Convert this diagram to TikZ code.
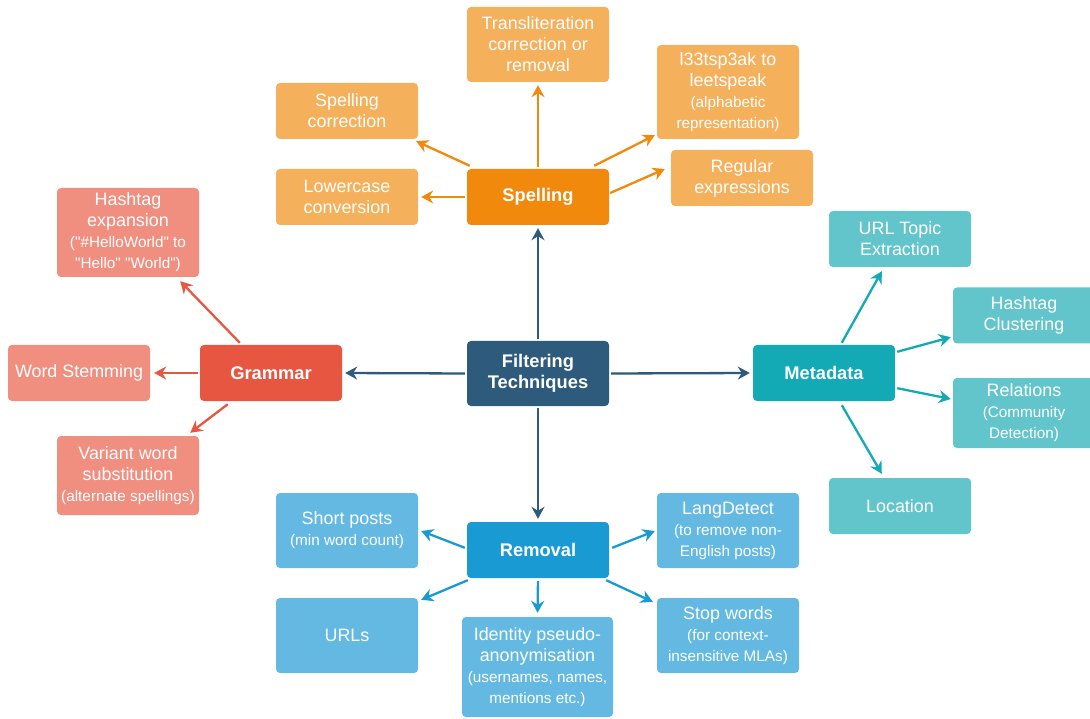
\documentclass[tikz,border=0pt]{standalone}
\usepackage{fontspec}
\setmainfont{Liberation Sans}
\newfontfamily\plainf{Liberation Sans}
\usetikzlibrary{arrows.meta,calc}
\definecolor{spD}{HTML}{F0890C}
\definecolor{spL}{HTML}{F5B05B}
\definecolor{grD}{HTML}{E75640}
\definecolor{grL}{HTML}{F08E80}
\definecolor{ftc}{HTML}{2E5A7B}
\definecolor{mdD}{HTML}{13A9B5}
\definecolor{mdL}{HTML}{63C5CC}
\definecolor{rmD}{HTML}{1A9AD3}
\definecolor{rmL}{HTML}{63B9E1}
\newcommand{\sml}{\fontsize{15.3}{21}\selectfont}
\begin{document}
\begin{tikzpicture}[x=1pt,y=-1pt,
 box/.style={rectangle, rounded corners=4pt, minimum width=142pt, minimum height=56pt, inner sep=0pt, align=center, text=white, font=\plainf\fontsize{17.9}{21}\selectfont},
 hub/.style={box, font=\plainf\fontsize{18.3}{21}\selectfont\bfseries},
 arr/.style={line width=2.3pt, -{Stealth[length=12pt,width=13pt,inset=4pt]}},
]
\useasboundingbox[fill=white] (0,0) rectangle (1090,719);
% Spelling group
\node[hub, fill=spD] (spell) at (538,197) {Spelling};
\node[box, fill=spL, minimum height=75pt] (tr) at (538,44.5) {Transliteration\\correction or\\removal};
\node[box, fill=spL] (spc) at (347,111) {Spelling\\correction};
\node[box, fill=spL, minimum height=94pt] (leet) at (728,92) {l33tsp3ak to\\leetspeak\\{\sml (alphabetic}\\{\sml representation)}};
\node[box, fill=spL] (low) at (347,197) {Lowercase\\conversion};
\node[box, fill=spL] (regex) at (742,178) {Regular\\expressions};
% Grammar group
\node[hub, fill=grD] (gram) at (271,373) {Grammar};
\node[box, fill=grL, minimum height=89pt] (hexp) at (128,232.5) {Hashtag\\expansion\\{\sml ("\#HelloWorld" to}\\{\sml "Hello" "World")}};
\node[box, fill=grL] (stem) at (79,373) {Word Stemming};
\node[box, fill=grL, minimum height=79pt] (var) at (128,475.5) {Variant word\\substitution\\{\sml (alternate spellings)}};
% Centre
\node[hub, fill=ftc, minimum height=65pt] (filt) at (538,373.5) {Filtering\\Techniques};
% Metadata group
\node[hub, fill=mdD] (meta) at (824,373) {Metadata};
\node[box, fill=mdL] (url) at (900,239) {URL Topic\\Extraction};
\node[box, fill=mdL] (hcl) at (1024,315.5) {Hashtag\\Clustering};
\node[box, fill=mdL, minimum height=70pt] (rel) at (1024,413) {Relations\\{\sml (Community}\\{\sml Detection)}};
\node[box, fill=mdL] (loc) at (900,506) {Location};
% Removal group
\node[hub, fill=rmD] (rem) at (538,550) {Removal};
\node[box, fill=rmL, minimum height=75pt] (short) at (347,530.5) {Short posts\\{\sml (min word count)}};
\node[box, fill=rmL, minimum height=75pt] (lang) at (728,530.5) {LangDetect\\{\sml (to remove non-}\\{\sml English posts)}};
\node[box, fill=rmL, minimum height=75pt] (urls) at (347,635.5) {URLs};
\node[box, fill=rmL, minimum width=151pt, minimum height=100pt] (ident) at (537.5,667) {Identity pseudo-\\anonymisation\\{\sml (usernames, names,}\\{\sml mentions etc.)}};
\node[box, fill=rmL, minimum height=75pt] (stop) at (728,635.5) {Stop words\\{\sml (for context-}\\{\sml insensitive MLAs)}};
% Arrows: centre
\draw[arr, ftc, shorten <=2pt, shorten >=3pt] (filt.north) -- (spell.south);
\draw[arr, ftc, shorten <=2pt, shorten >=3pt] (filt.west) -- (gram.east);
\draw[arr, ftc, shorten <=2pt, shorten >=3pt] (filt.east) -- (meta.west);
\draw[arr, ftc, shorten <=2pt, shorten >=3pt] (filt.south) -- (rem.north);
% Arrows: spelling
\draw[arr, spD, shorten <=2pt, shorten >=3pt] (spell.north) -- (tr.south);
\draw[arr, spD] ([shift={(3,-3)}]spell.north west) -- ([shift={(-2,2)}]spc.south east);
\draw[arr, spD] ([shift={(-2,0)}]spell.west) -- ([shift={(3,0)}]low.east);
\draw[arr, spD] ([shift={(-15,-3)}]spell.north east) -- ([shift={(-2,-4)}]leet.south west);
\draw[arr, spD] ([shift={(1,-4)}]spell.east) -- ([shift={(-6,-9)}]regex.west);
% Arrows: grammar
\draw[arr, grD] ([shift={(40,-2)}]gram.north west) -- ([shift={(-19,4)}]hexp.south east);
\draw[arr, grD] ([shift={(-2,0)}]gram.west) -- ([shift={(4,0)}]stem.east);
\draw[arr, grD] ([shift={(28,3)}]gram.south west) -- ([shift={(-9,-3)}]var.north east);
% Arrows: metadata
\draw[arr, mdD] ([shift={(89,-2)}]meta.north west) -- ([shift={(53,4)}]url.south west);
\draw[arr, mdD] ([shift={(2,7)}]meta.north east) -- ([shift={(-2,-6.5)}]hcl.south west);
\draw[arr, mdD] ([shift={(2,-13)}]meta.south east) -- ([shift={(-2,-14)}]rel.west);
\draw[arr, mdD] ([shift={(89,4)}]meta.south west) -- ([shift={(53,-4)}]loc.north west);
% Arrows: removal
\draw[arr, rmD] ([shift={(-2,26)}]rem.north west) -- ([shift={(3,0.5)}]short.east);
\draw[arr, rmD] ([shift={(3,26)}]rem.north east) -- ([shift={(-2,0.5)}]lang.west);
\draw[arr, rmD] ([shift={(1,2)}]rem.south west) -- ([shift={(3,2)}]urls.north east);
\draw[arr, rmD, shorten <=3pt, shorten >=4pt] (rem.south) -- (ident.north);
\draw[arr, rmD] ([shift={(-3,2)}]rem.south east) -- ([shift={(-4,4)}]stop.north west);
\end{tikzpicture}
\end{document}
